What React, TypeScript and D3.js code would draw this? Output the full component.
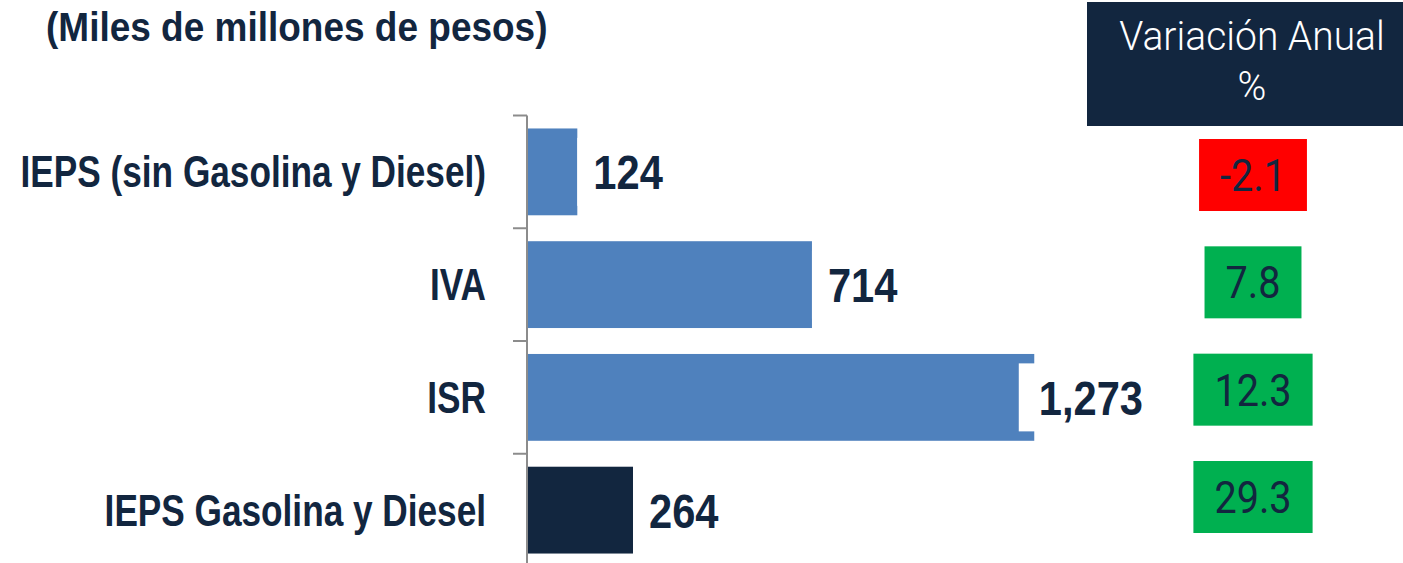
import React, { useEffect, useRef } from "react";
import * as d3 from "d3";

const categories = ["IEPS (sin Gasolina y Diesel)", "IVA", "ISR", "IEPS Gasolina y Diesel"];
const values = [124, 714, 1273, 264];
const variation = [-2.1, 7.8, 12.3, 29.3];
const title = "(Miles de millones de pesos)";
const headerLines = ["Variación Anual", "%"];

const W = 1403;
const H = 563;
const NAVY = "#12263f";
const BLUE = "#4f81bd";
const SANS = "'Liberation Sans', Arial, sans-serif";
const ROBOTO = "Roboto, 'Liberation Sans', sans-serif";

export default function App() {
  const ref = useRef<SVGSVGElement | null>(null);

  useEffect(() => {
    const svg = d3.select(ref.current);
    svg.selectAll("*").remove();

    const addText = (
      parent: any,
      str: string,
      x: number,
      y: number,
      opts: { size: number; family: string; weight?: string; fill: string; anchor?: string; sx: number }
    ) => {
      const t = parent
        .append("text")
        .attr("transform", `translate(${x},${y}) scale(${opts.sx},1)`)
        .attr("font-family", opts.family)
        .attr("font-weight", opts.weight || "normal")
        .attr("font-size", opts.size)
        .attr("fill", opts.fill)
        .attr("text-anchor", opts.anchor || "start")
        .text(str);
      const w = (t.node() as SVGTextElement).getComputedTextLength() * opts.sx;
      return { t, w };
    };

    const x = d3.scaleLinear().domain([0, 1300]).range([528, 1045]);
    const y = d3
      .scaleBand<string>()
      .domain(categories)
      .range([115.5, 566.5])
      .paddingInner(0.23)
      .paddingOuter(0.115);

    const rows = categories.map((c, i) => ({ c, v: values[i], p: variation[i], i }));

    // title
    addText(svg, title, 46, 41, { size: 40, family: SANS, weight: "bold", fill: NAVY, sx: 0.925 });

    // bars
    svg
      .append("g")
      .selectAll("rect")
      .data(rows)
      .join("rect")
      .attr("x", x(0))
      .attr("y", (d) => y(d.c)!)
      .attr("width", (d) => x(d.v) - x(0))
      .attr("height", y.bandwidth())
      .attr("fill", (d) => (d.i === categories.length - 1 ? NAVY : BLUE));

    // axis
    const step = y.step();
    const axisX = 527;
    const ax = svg.append("g").attr("stroke", "#8c8c8c").attr("stroke-width", 2);
    ax.append("line")
      .attr("x1", axisX)
      .attr("x2", axisX)
      .attr("y1", y.range()[0])
      .attr("y2", H);
    d3.range(categories.length + 1).forEach((k) => {
      const ty = y.range()[0] + k * step;
      ax.append("line").attr("x1", 513).attr("x2", axisX).attr("y1", ty).attr("y2", ty);
    });

    // category labels
    const cg = svg.append("g");
    rows.forEach((d) => {
      addText(cg, d.c, 486, y(d.c)! + y.bandwidth() / 2 + 15.5, {
        size: 44,
        family: SANS,
        weight: "bold",
        fill: NAVY,
        anchor: "end",
        sx: 0.8,
      });
    });

    // value labels
    const fmt = d3.format(",");
    const labelMaxRight = 1143;
    const VSX = 0.85;
    const lg = svg.append("g");
    rows.forEach((d) => {
      const cy = y(d.c)! + y.bandwidth() / 2;
      const g = lg.append("g");
      const bg = g.append("rect").attr("fill", "#ffffff");
      const { t, w } = addText(g, fmt(d.v), 0, cy + 17.5, {
        size: 49,
        family: SANS,
        weight: "bold",
        fill: NAVY,
        sx: VSX,
      });
      const natural = x(d.v) + 16;
      const tx = Math.min(natural, labelMaxRight - w);
      t.attr("transform", `translate(${tx},${cy + 17.5}) scale(${VSX},1)`);
      const bgX = tx < natural ? tx - 20 : x(d.v);
      bg.attr("x", bgX).attr("y", cy - 34).attr("width", tx + w + 20 - bgX).attr("height", 68);
    });

    // header box
    svg.append("rect").attr("x", 1087).attr("y", 2).attr("width", W - 1087).attr("height", 124).attr("fill", NAVY);
    headerLines.forEach((line, k) => {
      addText(svg, line, 1252, 50 + k * 50, {
        size: 40,
        family: ROBOTO,
        weight: "300",
        fill: "#ffffff",
        anchor: "middle",
        sx: 0.975,
      });
    });

    // variation boxes
    const yv = d3.scaleLinear().domain([0, categories.length - 1]).range([175, 497]);
    const vg = svg.append("g");
    rows.forEach((d) => {
      const cy = yv(d.i);
      const g = vg.append("g");
      const bg = g.append("rect").attr("fill", d.p < 0 ? "#ff0000" : "#00b050");
      const label = d3.format(".1f")(d.p).replace("−", "-");
      const { w } = addText(g, label, 1253, cy + 16, {
        size: 45,
        family: ROBOTO,
        fill: NAVY,
        anchor: "middle",
        sx: 0.88,
      });
      bg.attr("x", 1253 - w / 2 - 21).attr("y", cy - 36).attr("width", w + 42).attr("height", 72);
    });
  }, []);

  return (
    <svg
      ref={ref}
      width={W}
      height={H}
      style={{ position: "absolute", left: 0, top: 0, background: "#ffffff" }}
    />
  );
}
